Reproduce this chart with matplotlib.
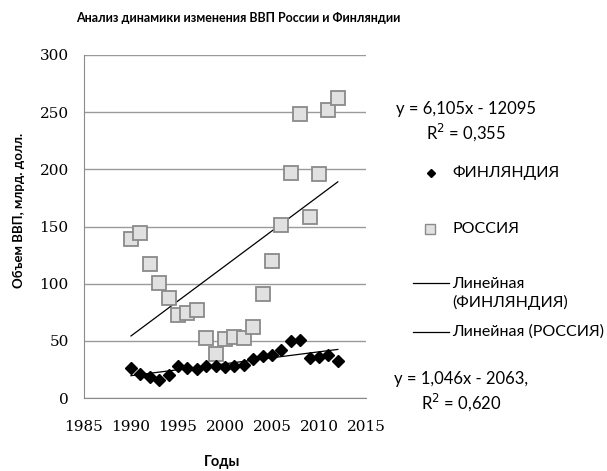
import matplotlib
matplotlib.use("Agg")
import matplotlib.pyplot as plt
from matplotlib.lines import Line2D
import numpy as np

# Данные (млрд. долл.)
years = [1990, 1991, 1992, 1993, 1994, 1995, 1996, 1997, 1998, 1999, 2000, 2001,
         2002, 2003, 2004, 2005, 2006, 2007, 2008, 2009, 2010, 2011, 2012]
finland = [26.5, 20.7, 18.7, 15.7, 20.1, 28.0, 26.0, 25.0, 28.3, 28.0, 27.4, 28.0,
           28.9, 33.8, 37.0, 37.6, 42.0, 50.1, 50.7, 34.7, 35.6, 37.6, 32.6]
russia = [138.8, 144.0, 117.0, 100.9, 87.2, 72.6, 74.6, 77.0, 52.2, 38.5, 51.3, 53.7,
          52.2, 62.4, 90.7, 119.9, 151.3, 196.6, 248.5, 158.6, 195.7, 252.0, 262.2]
x_ticks = [1985, 1990, 1995, 2000, 2005, 2010, 2015]
y_ticks = [0, 50, 100, 150, 200, 250, 300]

W, H = 607, 471
def fx(px):
    return px / W
def fy(py):
    return 1 - py / H

sans = ["Lato", "Open Sans", "DejaVu Sans"]
serif = ["DejaVu Serif"]

fig = plt.figure(figsize=(6.07, 4.71), dpi=100)
ax = fig.add_axes([fx(84), fy(398), fx(366) - fx(84), fy(55) - fy(398)])

x = np.array(years)
# линии тренда
k_f, b_f = np.polyfit(x, finland, 1)
k_r, b_r = np.polyfit(x, russia, 1)
xx = np.array([years[0], years[-1]])
ax.plot(xx, k_f * xx + b_f, color="black", lw=0.9, zorder=4)
ax.plot(xx, k_r * xx + b_r, color="black", lw=0.9, zorder=2)

ax.plot(years, russia, ls="none", marker="s", ms=9.5, mfc="#e1e1e1", mec="#8a8a8a",
        mew=1.3, zorder=3)
ax.plot(years, finland, ls="none", marker="D", ms=6, mfc="black", mec="black", zorder=5)

ax.set_xlim(1985, 2015)
ax.set_ylim(0, 300)
ax.set_xticks(x_ticks)
ax.set_yticks(y_ticks)
ax.tick_params(length=0, labelsize=11)
ax.tick_params(axis="x", pad=16)
ax.tick_params(axis="y", pad=11)
for lab in ax.get_xticklabels() + ax.get_yticklabels():
    lab.set_fontfamily(serif)
ax.grid(axis="y", color="#9a9a9a", lw=1)
ax.set_axisbelow(True)
for s in ["top", "right"]:
    ax.spines[s].set_visible(False)
for s in ["left", "bottom"]:
    ax.spines[s].set_color("#8a8a8a")

fig.text(fx(238), fy(18), "Анализ динамики изменения ВВП России и Финляндии",
         ha="center", va="center", fontsize=9, fontweight="bold", family=sans)
fig.text(fx(19), fy(210), "Объем ВВП, млрд. долл.", rotation=90,
         ha="center", va="center", fontsize=9.5, fontweight="bold", family=sans)
fig.text(fx(222), fy(462), "Годы", ha="center", va="center", fontsize=10.5,
         fontweight="bold", family=sans)

# подписи уравнений
fig.text(fx(466), fy(122), "y = 6,105x - 12095\nR$^2$ = 0,355", ha="center", va="center",
         fontsize=12, family=sans, linespacing=1.25)
fig.text(fx(461), fy(392), "y = 1,046x - 2063,\nR$^2$ = 0,620", ha="center", va="center",
         fontsize=12, family=sans, linespacing=1.25)

# легенда
fig.add_artist(Line2D([fx(431)], [fy(173)], transform=fig.transFigure, ls="none",
                      marker="D", ms=4.5, color="black"))
fig.add_artist(Line2D([fx(430)], [fy(229)], transform=fig.transFigure, ls="none",
                      marker="s", ms=7, mfc="#e1e1e1", mec="#8a8a8a", mew=1))
fig.add_artist(Line2D([fx(413), fx(449)], [fy(283), fy(283)], transform=fig.transFigure,
                      color="black", lw=0.9))
fig.add_artist(Line2D([fx(413), fx(449)], [fy(332), fy(332)], transform=fig.transFigure,
                      color="black", lw=0.9))
fig.text(fx(452), fy(173), "ФИНЛЯНДИЯ", ha="left", va="center", fontsize=11.5, family=sans)
fig.text(fx(452), fy(229), "РОССИЯ", ha="left", va="center", fontsize=11.5, family=sans)
fig.text(fx(452), fy(277), "Линейная\n(ФИНЛЯНДИЯ)", ha="left", va="top", fontsize=11.5,
         family=sans, linespacing=1.35)
fig.text(fx(452), fy(332), "Линейная (РОССИЯ)", ha="left", va="center", fontsize=11.5,
         family=sans)

fig.savefig("out.png", dpi=100)
